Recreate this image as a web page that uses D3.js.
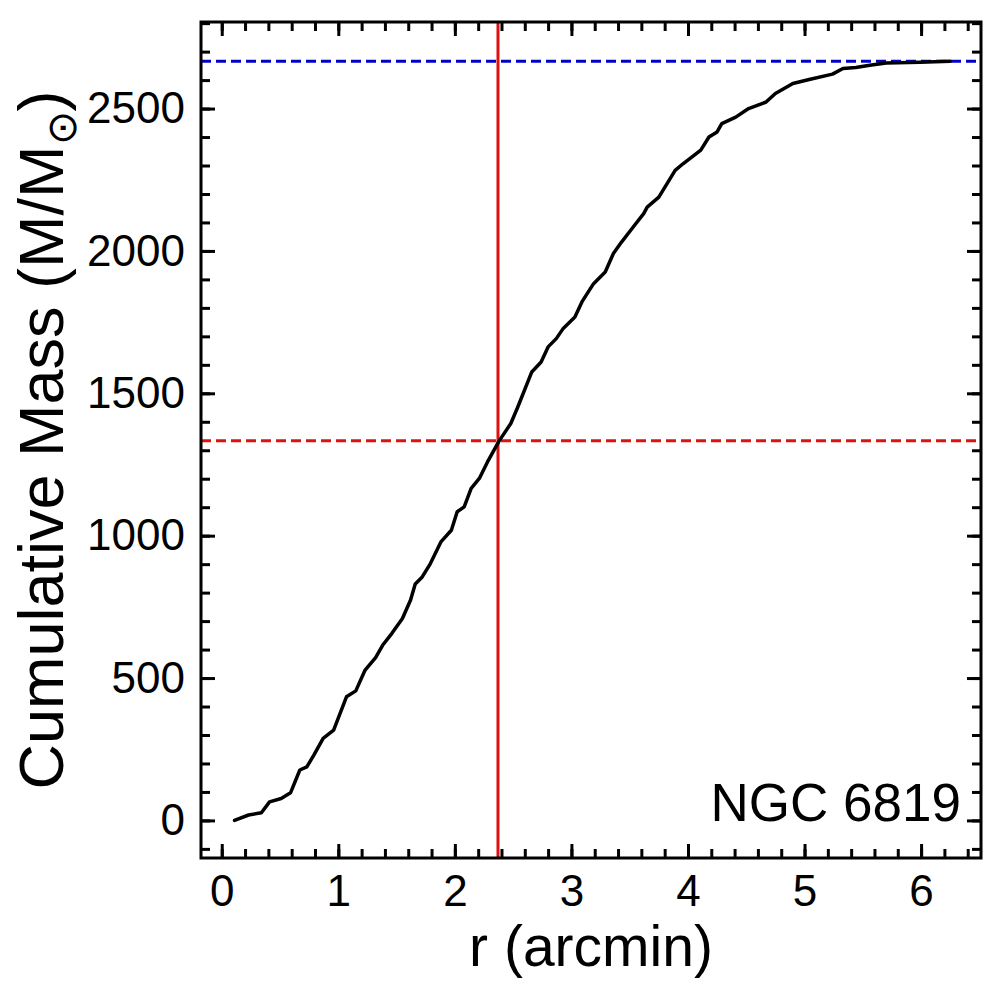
<!DOCTYPE html>
<html>
<head>
<meta charset="utf-8">
<script src="https://cdn.jsdelivr.net/npm/d3@7"></script>
<style>
  body { margin: 0; background: #fff; }
  svg { display: block; font-family: "Liberation Sans", Arial, sans-serif; }
  .axis path { display: none; }
  .axis line { stroke: #000; stroke-width: 3; }
  .axis text { fill: #000; font-size: 44px; font-family: "Liberation Sans", Arial, sans-serif; }
</style>
</head>
<body>
<script>
// cumulative mass profile
var radius = [0.11, 0.23, 0.34, 0.41, 0.51, 0.59, 0.67, 0.73, 0.79, 0.87, 0.96, 1.07, 1.15, 1.23, 1.32,
  1.38, 1.46, 1.55, 1.62, 1.66, 1.72, 1.79, 1.88, 1.97, 2.02, 2.08, 2.14, 2.21, 2.28, 2.38, 2.48,
  2.54, 2.66, 2.74, 2.80, 2.87, 2.93, 3.03, 3.09, 3.19, 3.29, 3.36, 3.43, 3.53, 3.62, 3.65, 3.75,
  3.89, 3.96, 4.11, 4.18, 4.25, 4.29, 4.41, 4.52, 4.67, 4.75, 4.90, 5.04, 5.24, 5.33, 5.44, 5.56,
  5.70, 5.99, 6.25];
var cumMass = [0, 19, 27, 65, 77, 97, 177, 188, 229, 288, 317, 434, 455, 528, 572,
  615, 657, 709, 774, 830, 855, 902, 978, 1019, 1084, 1101, 1166, 1201, 1259, 1333, 1394,
  1452, 1575, 1610, 1663, 1692, 1728, 1768, 1821, 1885, 1926, 1991, 2031, 2084, 2131, 2154, 2189,
  2283, 2307, 2354, 2400, 2418, 2447, 2470, 2500, 2523, 2553, 2588, 2602, 2621, 2641, 2644, 2652,
  2660, 2663, 2666];

var totalMass = 2666,
    halfMass = 1333,
    halfMassRadius = 2.37;

var xTicks = [0, 1, 2, 3, 4, 5, 6],
    yTicks = [0, 500, 1000, 1500, 2000, 2500];
var clusterName = "NGC 6819";

var W = 1002, H = 996;
var margin = {top: 22, left: 201, right: 21, bottom: 138};
var width = W - margin.left - margin.right,
    height = H - margin.top - margin.bottom;

var svg = d3.select("body").append("svg")
    .attr("width", W)
    .attr("height", H);

var g = svg.append("g")
    .attr("transform", `translate(${margin.left}, ${margin.top})`);

var x = d3.scaleLinear().domain([-0.178, 6.514]).range([0, width]),
    y = d3.scaleLinear().domain([-132, 2804]).range([height, 0]);

var xMinor = d3.range(0, 6.5, 0.2).map(d => +d.toFixed(1)),
    yMinor = d3.range(-100, 2801, 100);

var MAJ = 14, MIN = 9;

// ticks on all four sides, pointing inward
g.append("g").attr("class", "axis")
    .attr("transform", `translate(0, ${height})`)
    .call(d3.axisBottom(x).tickValues(xMinor).tickSize(-MIN).tickFormat(""));
g.append("g").attr("class", "axis")
    .attr("transform", `translate(0, ${height})`)
    .call(d3.axisBottom(x).tickValues(xTicks).tickSize(-MAJ).tickPadding(17).tickFormat(d3.format("d")));
g.append("g").attr("class", "axis")
    .call(d3.axisTop(x).tickValues(xMinor).tickSize(-MIN).tickFormat(""));
g.append("g").attr("class", "axis")
    .call(d3.axisTop(x).tickValues(xTicks).tickSize(-MAJ).tickFormat(""));

g.append("g").attr("class", "axis")
    .call(d3.axisLeft(y).tickValues(yMinor).tickSize(-MIN).tickFormat(""));
g.append("g").attr("class", "axis")
    .call(d3.axisLeft(y).tickValues(yTicks).tickSize(-MAJ).tickPadding(16).tickFormat(d3.format("d")));
g.append("g").attr("class", "axis")
    .attr("transform", `translate(${width}, 0)`)
    .call(d3.axisRight(y).tickValues(yMinor).tickSize(-MIN).tickFormat(""));
g.append("g").attr("class", "axis")
    .attr("transform", `translate(${width}, 0)`)
    .call(d3.axisRight(y).tickValues(yTicks).tickSize(-MAJ).tickFormat(""));

// reference lines
g.append("line")
    .attr("x1", 0).attr("x2", width)
    .attr("y1", y(totalMass)).attr("y2", y(totalMass))
    .attr("stroke", "#0000c8").attr("stroke-width", 3)
    .attr("stroke-dasharray", "10,5");
g.append("line")
    .attr("x1", 0).attr("x2", width)
    .attr("y1", y(halfMass)).attr("y2", y(halfMass))
    .attr("stroke", "#e01010").attr("stroke-width", 3)
    .attr("stroke-dasharray", "10,5");
g.append("line")
    .attr("x1", x(halfMassRadius)).attr("x2", x(halfMassRadius))
    .attr("y1", 0).attr("y2", height)
    .attr("stroke", "#e01010").attr("stroke-width", 3);

// the profile itself
var line = d3.line()
    .x((d, i) => x(radius[i]))
    .y(d => y(d));

g.append("path")
    .datum(cumMass)
    .attr("fill", "none")
    .attr("stroke", "#000")
    .attr("stroke-width", 3.5)
    .attr("stroke-linejoin", "round")
    .attr("stroke-linecap", "round")
    .attr("d", line);

// frame
g.append("rect")
    .attr("width", width).attr("height", height)
    .attr("fill", "none").attr("stroke", "#000").attr("stroke-width", 3);

g.append("text")
    .attr("x", width - 20).attr("y", y(0) + 1)
    .attr("text-anchor", "end")
    .attr("font-size", 53)
    .text(clusterName);

// axis titles
svg.append("text")
    .attr("x", margin.left + width / 2).attr("y", 966)
    .attr("text-anchor", "middle")
    .attr("font-size", 57)
    .text("r (arcmin)");

var yt = svg.append("text")
    .attr("transform", `translate(63, ${margin.top + height / 2}) rotate(-90)`)
    .attr("text-anchor", "middle")
    .attr("font-size", 63);
yt.append("tspan").text("Cumulative Mass (M/M");
yt.append("tspan").attr("font-size", 41).attr("dy", 13).text("\u2299");
yt.append("tspan").attr("dy", -13).text(")");
</script>
</body>
</html>
